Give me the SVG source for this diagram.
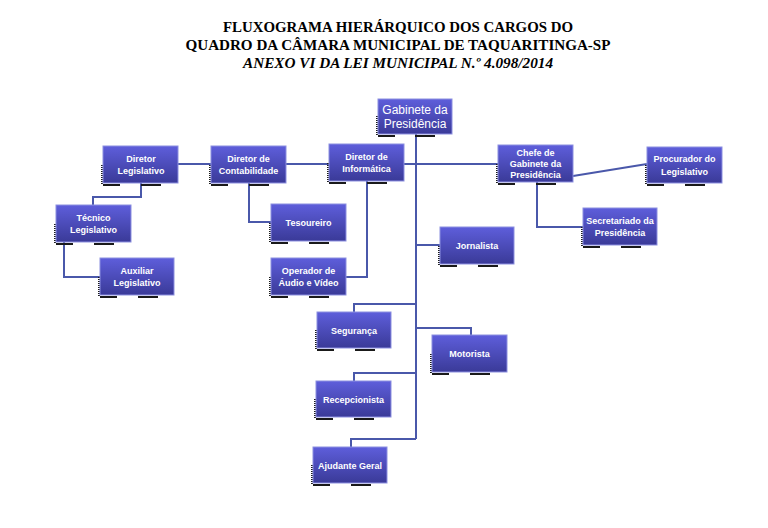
<svg xmlns="http://www.w3.org/2000/svg" width="768" height="528" viewBox="0 0 768 528">
<defs>
<linearGradient id="g" x1="0" y1="0" x2="0" y2="1">
<stop offset="0" stop-color="#5e5edb"/>
<stop offset="1" stop-color="#3a3a98"/>
</linearGradient>
<style>
.box{fill:url(#g);stroke:#8c8fe0;stroke-width:1}
.sh{fill:none;stroke:#1a1a1a;stroke-width:2}
.shl{fill:none;stroke:#1a1a1a;stroke-width:2;stroke-dasharray:1 1}
.t{font-family:"Liberation Sans",Arial,sans-serif;font-size:9px;font-weight:bold;fill:#ffffff;text-anchor:middle}
.tg{font-family:"Liberation Sans",Arial,sans-serif;font-size:12px;fill:#ffffff;text-anchor:middle}
.ttl{font-family:"Liberation Serif","Times New Roman",serif;font-size:14.5px;font-weight:bold;fill:#000;text-anchor:middle}
.conn{fill:none;stroke:#4a58aa;stroke-width:2}
</style>
</defs>
<rect width="768" height="528" fill="#ffffff"/>
<g id="title">
<text class="ttl" x="398" y="32" textLength="350" lengthAdjust="spacingAndGlyphs">FLUXOGRAMA HIERÁRQUICO DOS CARGOS DO</text>
<text class="ttl" x="398" y="50" textLength="425" lengthAdjust="spacingAndGlyphs">QUADRO DA CÂMARA MUNICIPAL DE TAQUARITINGA-SP</text>
<text class="ttl" x="398" y="68" font-style="italic" textLength="310" lengthAdjust="spacingAndGlyphs">ANEXO VI DA LEI MUNICIPAL N.º 4.098/2014</text>
</g>
<g id="connectors">
<path class="conn" d="M416,134 V439"/>
<path class="conn" d="M404,164 H498"/>
<path class="conn" d="M178,164 H211 M286,164 H329"/>
<path class="conn" d="M141,183 V197 H93 V205"/>
<path class="conn" d="M64,242 V277 H100"/>
<path class="conn" d="M249,183 V222 H271"/>
<path class="conn" d="M367,181 V277 H346"/>
<path class="conn" d="M537,182 V227 H583"/>
<path class="conn" d="M573,176 L647,164"/>
<path class="conn" d="M416,245 H440"/>
<path class="conn" d="M416,304 H354 V312"/>
<path class="conn" d="M416,328 H471 V335"/>
<path class="conn" d="M416,373 H354 V381"/>
<path class="conn" d="M416,439 H351 V447"/>
</g>
<g id="gabinete">
<path class="shl" d="M377,116 V136"/><path class="sh" d="M378,136 h17 M415,136 h20"/>
<rect class="box" x="378" y="99" width="74" height="35"/>
<text class="tg" x="415" y="113.5">Gabinete da</text>
<text class="tg" x="415" y="127.5">Presidência</text>
</g>
<g id="dir-legislativo">
<path class="shl" d="M102,165 V185"/><path class="sh" d="M103,185 h17 M141,185 h20"/>
<rect class="box" x="103" y="146" width="75" height="37"/>
<text class="t" x="141" y="161.5">Diretor</text>
<text class="t" x="141" y="174">Legislativo</text>
</g>
<g id="dir-contabilidade">
<path class="shl" d="M210,165 V185"/><path class="sh" d="M211,185 h17 M249,185 h20"/>
<rect class="box" x="211" y="146" width="75" height="37"/>
<text class="t" x="248.5" y="161.5">Diretor de</text>
<text class="t" x="248.5" y="174">Contabilidade</text>
</g>
<g id="dir-informatica">
<path class="shl" d="M328,163 V183"/><path class="sh" d="M329,183 h17 M367,183 h20"/>
<rect class="box" x="329" y="144" width="75" height="37"/>
<text class="t" x="366.5" y="159.5">Diretor de</text>
<text class="t" x="366.5" y="172">Informática</text>
</g>
<g id="chefe-gabinete">
<path class="shl" d="M497,164 V184"/><path class="sh" d="M498,184 h17 M536,184 h20"/>
<rect class="box" x="498" y="145" width="75" height="37"/>
<text class="t" x="535.5" y="155.5">Chefe de</text>
<text class="t" x="535.5" y="167">Gabinete da</text>
<text class="t" x="535.5" y="178">Presidência</text>
</g>
<g id="procurador">
<path class="shl" d="M646,165 V185"/><path class="sh" d="M647,185 h17 M685,185 h20"/>
<rect class="box" x="647" y="147" width="75" height="36"/>
<text class="t" x="684.5" y="162">Procurador do</text>
<text class="t" x="684.5" y="174.5">Legislativo</text>
</g>
<g id="secretariado">
<path class="shl" d="M582,227 V247"/><path class="sh" d="M583,247 h17 M621,247 h20"/>
<rect class="box" x="583" y="208" width="74" height="37"/>
<text class="t" x="620" y="223.5">Secretariado da</text>
<text class="t" x="620" y="236">Presidência</text>
</g>
<g id="tecnico">
<path class="shl" d="M55,224 V244"/><path class="sh" d="M56,244 h17 M94,244 h20"/>
<rect class="box" x="56" y="205" width="75" height="37"/>
<text class="t" x="93.5" y="220.5">Técnico</text>
<text class="t" x="93.5" y="233">Legislativo</text>
</g>
<g id="auxiliar">
<path class="shl" d="M99,277 V297"/><path class="sh" d="M100,297 h17 M138,297 h20"/>
<rect class="box" x="100" y="258" width="74" height="37"/>
<text class="t" x="137" y="273.5">Auxiliar</text>
<text class="t" x="137" y="286">Legislativo</text>
</g>
<g id="tesoureiro">
<path class="shl" d="M270,223 V243"/><path class="sh" d="M271,243 h17 M309,243 h20"/>
<rect class="box" x="271" y="204" width="75" height="37"/>
<text class="t" x="308.5" y="226">Tesoureiro</text>
</g>
<g id="operador">
<path class="shl" d="M270,277 V297"/><path class="sh" d="M271,297 h17 M309,297 h20"/>
<rect class="box" x="271" y="258" width="75" height="37"/>
<text class="t" x="308.5" y="273.5">Operador de</text>
<text class="t" x="308.5" y="286">Áudio e Vídeo</text>
</g>
<g id="jornalista">
<path class="shl" d="M439,246 V266"/><path class="sh" d="M440,266 h17 M478,266 h20"/>
<rect class="box" x="440" y="227" width="74" height="37"/>
<text class="t" x="477" y="249">Jornalista</text>
</g>
<g id="seguranca">
<path class="shl" d="M316,330 V350"/><path class="sh" d="M317,350 h17 M355,350 h20"/>
<rect class="box" x="317" y="312" width="74" height="36"/>
<text class="t" x="354" y="333.5">Segurança</text>
</g>
<g id="motorista">
<path class="shl" d="M431,354 V374"/><path class="sh" d="M432,374 h17 M470,374 h20"/>
<rect class="box" x="432" y="335" width="75" height="37"/>
<text class="t" x="469.5" y="357">Motorista</text>
</g>
<g id="recepcionista">
<path class="shl" d="M315,399 V419"/><path class="sh" d="M316,419 h17 M354,419 h20"/>
<rect class="box" x="316" y="381" width="75" height="36"/>
<text class="t" x="353.5" y="402.5">Recepcionista</text>
</g>
<g id="ajudante">
<path class="shl" d="M312,465 V485"/><path class="sh" d="M313,485 h17 M351,485 h20"/>
<rect class="box" x="313" y="447" width="74" height="36"/>
<text class="t" x="350" y="468.5">Ajudante Geral</text>
</g>
</svg>
